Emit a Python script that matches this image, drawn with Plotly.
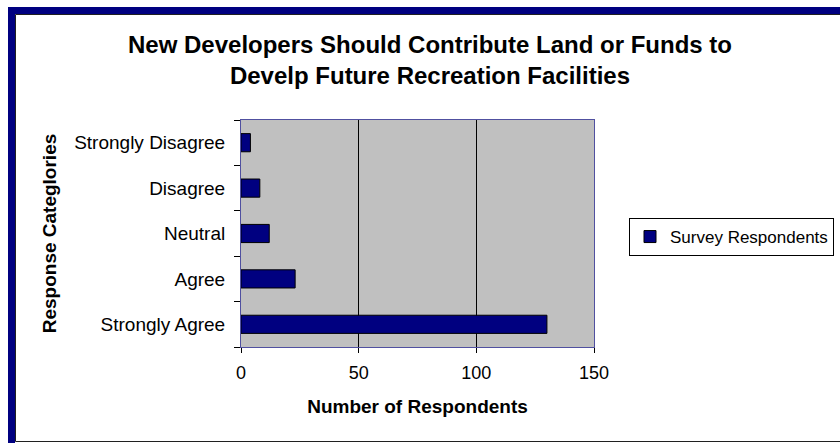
import plotly.graph_objects as go

# data
categories = ["Strongly Agree", "Agree", "Neutral", "Disagree", "Strongly Disagree"]
respondents = [130, 23, 12, 8, 4]
series_name = "Survey Respondents"
x_ticks = [0, 50, 100, 150]

W, H = 840, 443
# plot area in pixels
L, R, T, B = 241, 594, 120, 347


def px(x):
    return (x - L) / (R - L)


def py(y):
    return (B - y) / (B - T)


FONT = "Liberation Sans, Arial, sans-serif"
NAVY = "#000080"

fig = go.Figure()
fig.add_trace(go.Bar(
    y=categories,
    x=respondents,
    orientation="h",
    name=series_name,
    marker=dict(color=NAVY, line=dict(color="black", width=1)),
    showlegend=True,
))

# frame around the whole chart (thick navy left/top, thin dark inner edge)
shapes = [
    dict(type="line", xref="paper", yref="paper", x0=px(11.5), x1=px(W + 5),
         y0=py(10.5), y1=py(10.5), line=dict(color=NAVY, width=7)),
    dict(type="line", xref="paper", yref="paper", x0=px(11.5), x1=px(11.5),
         y0=py(7), y1=py(H + 5), line=dict(color=NAVY, width=7)),
    dict(type="line", xref="paper", yref="paper", x0=px(15.5), x1=px(W + 5),
         y0=py(14.5), y1=py(14.5), line=dict(color="#202020", width=1)),
    dict(type="line", xref="paper", yref="paper", x0=px(15.5), x1=px(15.5),
         y0=py(14.5), y1=py(441.5), line=dict(color="#202020", width=1)),
    dict(type="line", xref="paper", yref="paper", x0=px(15.5), x1=px(W + 5),
         y0=py(441.5), y1=py(441.5), line=dict(color="#202020", width=1)),
]

fig.update_layout(
    width=W, height=H,
    margin=dict(l=L, r=W - R, t=T, b=H - B, autoexpand=False),
    paper_bgcolor="white",
    plot_bgcolor="#C0C0C0",
    font=dict(family=FONT, size=18, color="black"),
    title=dict(
        text="<b>New Developers Should Contribute Land or Funds to<br>Develp Future Recreation Facilities</b>",
        x=430 / W, xanchor="center",
        y=1 - 53 / H, yanchor="middle",
        font=dict(family=FONT, size=24, color="black"),
    ),
    bargap=0.6,
    showlegend=True,
    legend=dict(
        x=px(629), xanchor="left",
        y=py(218), yanchor="top",
        bordercolor="black", borderwidth=1,
        bgcolor="white",
        font=dict(family=FONT, size=17, color="black"),
    ),
    shapes=shapes,
)

fig.update_xaxes(
    range=[0, 150],
    tickvals=x_ticks,
    ticks="outside", ticklen=5, tickcolor="black",
    showgrid=True, gridcolor="black", gridwidth=1,
    zeroline=False,
    showline=True, linecolor="#5050a0", linewidth=1, mirror=True,
    tickfont=dict(family=FONT, size=18),
    ticklabelstandoff=4,
    title=dict(text="<b>Number of Respondents</b>", standoff=18,
               font=dict(family=FONT, size=19)),
    fixedrange=True,
)

fig.update_yaxes(
    categoryorder="array", categoryarray=categories,
    ticks="outside", ticklen=6, tickcolor="black", tickson="boundaries",
    showgrid=False,
    showline=True, linecolor="#5050a0", linewidth=1, mirror=True,
    tickfont=dict(family=FONT, size=19),
    ticklabelstandoff=11,
    title=dict(text="<b>Response Categlories</b>", standoff=12,
               font=dict(family=FONT, size=19)),
    fixedrange=True,
)

# no page margin, so the 840x443 figure fills the window exactly
fig.write_html(
    "out.html",
    config={"displayModeBar": False},
    post_script="document.body.style.margin='0';",
)
